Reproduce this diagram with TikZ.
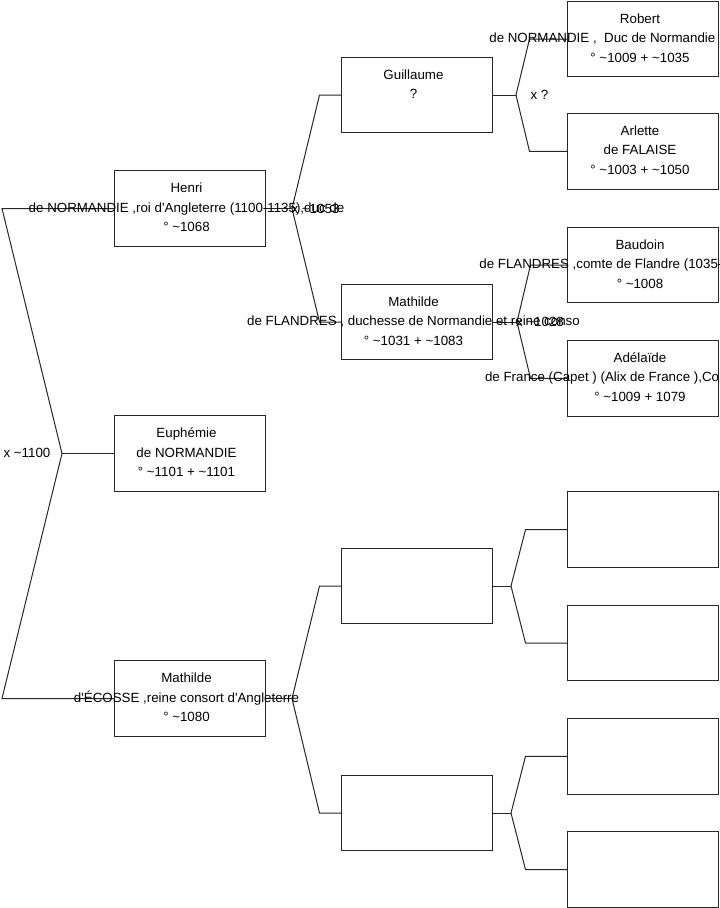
\documentclass[tikz,border=0pt]{standalone}
\usepackage{fontspec}
\setmainfont{Liberation Sans}[Ligatures=TeXOff]
\newcommand{\circa}{\textasciitilde}
\tikzset{
  person/.style = {rectangle, draw=black!85, line width=0.75pt, inner sep=0pt, outer sep=0pt, minimum width=113.25pt, minimum height=56.6pt},
  info/.style = {align=center, inner sep=0pt, xshift=-2.25pt, yshift=0.9pt, font=\fontsize{10pt}{14.6pt}\selectfont},
  union/.style = {inner sep=0pt, font=\fontsize{10pt}{14.6pt}\selectfont},
  link/.style = {draw=black!85, line width=0.75pt},
}

\begin{document}
\begin{tikzpicture}[x=0.75pt, y=-0.75pt]
    \useasboundingbox (0,0) rectangle (719,908);

    % Boxes
    \node (henri) [person] at (189.5,208.5) {};
    \node (euph) [person] at (189.5,453.5) {};
    \node (mathE) [person] at (189.5,698.5) {};

    \node (guil) [person] at (416.5,95) {};
    \node (mathF) [person] at (416.5,322) {};
    \node (empA) [person] at (416.5,586) {};
    \node (empB) [person] at (416.5,813) {};

    \node (robert) [person] at (643,39) {};
    \node (arlette) [person] at (643,151.3) {};
    \node (baudoin) [person] at (643,265) {};
    \node (adela) [person] at (643,378.3) {};
    \node (empA1) [person] at (643,529.7) {};
    \node (empA2) [person] at (643,643) {};
    \node (empB1) [person] at (643,756.3) {};
    \node (empB2) [person] at (643,869.5) {};

    % Connectors
    \draw [link] (euph.west) -- ++(-52,0) coordinate (v0);
    \draw [link] (henri.west) -- ++(-112,0) -- (v0);
    \draw [link] (mathE.west) -- ++(-112,0) -- (v0);

    \draw [link] (henri.east) -- ++(27,0) coordinate (v1);
    \draw [link] (guil.west) -- ++(-21.5,0) -- (v1);
    \draw [link] (mathF.west) -- ++(-21.5,0) -- (v1);

    \draw [link] (mathE.east) -- ++(27,0) coordinate (v2);
    \draw [link] (empA.west) -- ++(-21.5,0) -- (v2);
    \draw [link] (empB.west) -- ++(-21.5,0) -- (v2);

    \draw [link] (guil.east) -- ++(24,0) coordinate (v3);
    \draw [link] (robert.west) -- ++(-38,0) -- (v3);
    \draw [link] (arlette.west) -- ++(-38,0) -- (v3);

    \draw [link] (mathF.east) -- ++(25,0) coordinate (v4);
    \draw [link] (baudoin.west) -- ++(-37,0) -- (v4);
    \draw [link] (adela.west) -- ++(-37,0) -- (v4);

    \draw [link] (empA.east) -- ++(19,0) coordinate (v5);
    \draw [link] (empA1.west) -- ++(-42,0) -- (v5);
    \draw [link] (empA2.west) -- ++(-42,0) -- (v5);

    \draw [link] (empB.east) -- ++(19,0) coordinate (v6);
    \draw [link] (empB1.west) -- ++(-42,0) -- (v6);
    \draw [link] (empB2.west) -- ++(-42,0) -- (v6);

    % Texts
    \node (henri-t) [info] at (henri) {Henri\\de NORMANDIE ,roi d'Angleterre (1100-1135),duc de\\° \circa1068};
    \node (euph-t) [info] at (euph) {Euphémie\\de NORMANDIE\\° \circa1101 + \circa1101};
    \node (mathE-t) [info] at (mathE) {Mathilde\\d'ÉCOSSE ,reine consort d'Angleterre\\° \circa1080};
    \node (guil-t) [info] at (guil) {Guillaume\\?\\\mbox{}};
    \node (mathF-t) [info] at (mathF) {Mathilde\\de FLANDRES , duchesse de Normandie et reine conso\\° \circa1031 + \circa1083};
    \node (robert-t) [info] at (robert) {Robert\\\makebox[226pt][l]{de NORMANDIE ,\ \ Duc de Normandie}\\° \circa1009 + \circa1035};
    \node (arlette-t) [info] at (arlette) {Arlette\\de FALAISE\\° \circa1003 + \circa1050};
    \node (baudoin-t) [info] at (baudoin) {Baudoin\\\makebox[241pt][l]{de FLANDRES ,comte de Flandre (1035-}\\° \circa1008};
    \node (adela-t) [info] at (adela) {Adélaïde\\\makebox[232.5pt][l]{de France (Capet ) (Alix de France ),Co}\\° \circa1009 + 1079};

    % Unions
    \node (u0) [union] at (27,452.5) {x \circa1100};
    \node (u1) [union] at (315.5,208.5) {x \circa1053};
    \node (u3) [union] at (539.5,95) {x ?};
    \node (u4) [union] at (540,322) {x \circa1028};

\end{tikzpicture}
\end{document}
